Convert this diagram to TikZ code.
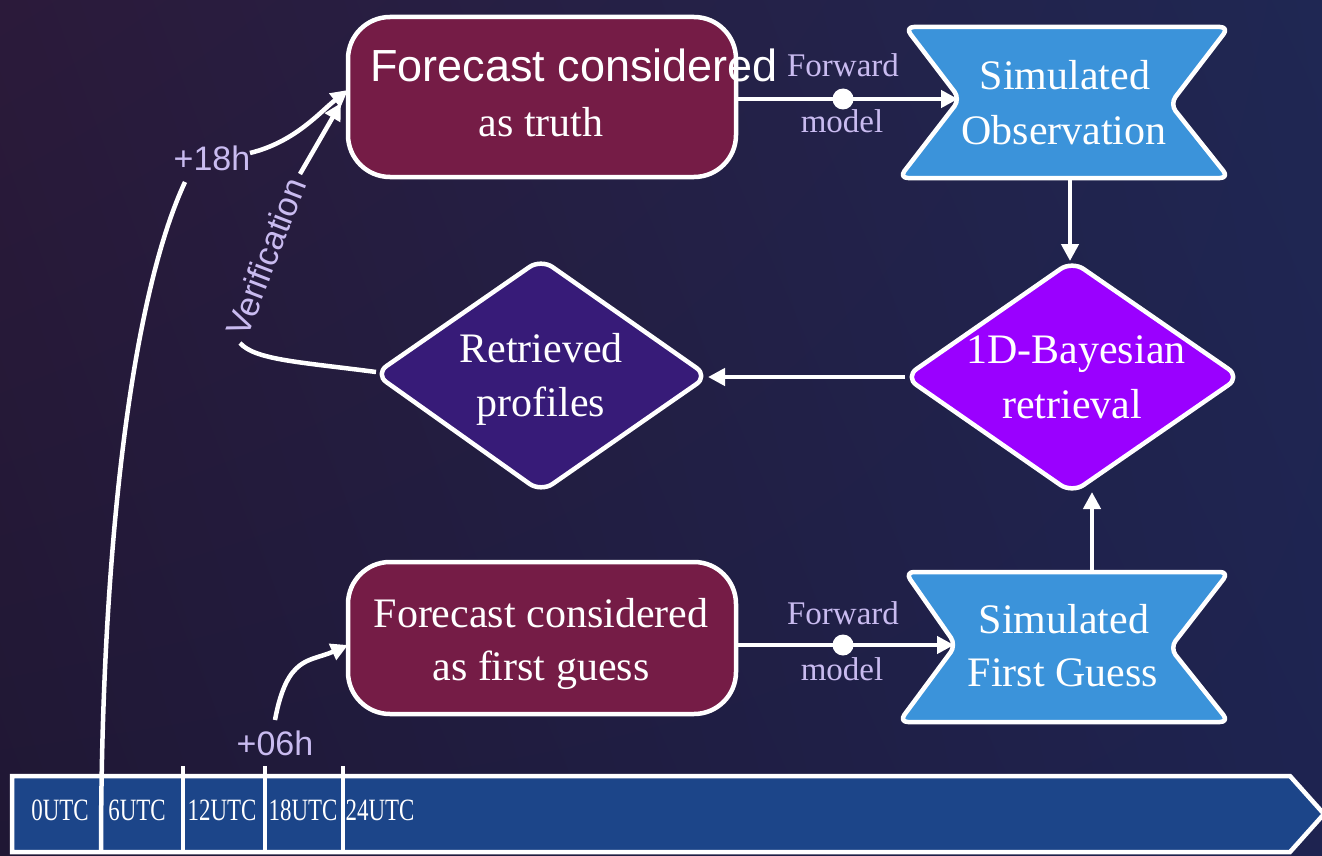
\documentclass[tikz,border=0pt]{standalone}
\usepackage{fontspec}
\setmainfont{Liberation Serif}
\setsansfont{Liberation Sans}
\usetikzlibrary{arrows.meta,calc,shadings}
\definecolor{bgUL}{HTML}{2B1A3A}
\definecolor{bgLL}{HTML}{1F1734}
\definecolor{bgUR}{HTML}{1F2753}
\definecolor{bgLR}{HTML}{1E2350}
\definecolor{maroonbox}{HTML}{751C46}
\definecolor{bluebox}{HTML}{3B93DA}
\definecolor{violetbox}{HTML}{9A00FF}
\definecolor{indigobox}{HTML}{371B78}
\definecolor{timebar}{HTML}{1C4589}
\definecolor{lav}{HTML}{C9BBF0}
\tikzset{
  shapeline/.style={draw=white, line width=4.5pt, line join=round},
  fcbox/.style={shapeline, fill=maroonbox, rounded corners=42pt},
  simbox/.style={shapeline, fill=bluebox, rounded corners=9pt},
  diabox/.style={shapeline, rounded corners=14pt},
  conn/.style={draw=white, line width=4.5pt, -{Triangle[length=17pt,width=17pt]}},
  plain/.style={draw=white, line width=4.5pt},
  maintxt/.style={text=white, inner sep=0pt, anchor=base, font=\fontsize{42pt}{50pt}\selectfont},
  lavtxt/.style={text=lav, inner sep=0pt, anchor=base, font=\fontsize{33pt}{40pt}\selectfont},
  lavsans/.style={text=lav, inner sep=0pt, anchor=base, font=\sffamily\fontsize{34pt}{40pt}\selectfont},
  utctxt/.style={text=white, inner sep=0pt, anchor=base, font=\fontsize{31pt}{36pt}\selectfont},
  tick/.style={draw=white, line width=4pt}
}
\newcommand{\utc}[1]{\scalebox{0.74}[1]{#1}}
\begin{document}
\begin{tikzpicture}[x=1pt,y=-1pt]
\useasboundingbox (0,0) rectangle (1322,856);
% background
\shade[upper left=bgUL, upper right=bgUR, lower left=bgLL, lower right=bgLR] (0,0) rectangle (1322,856);

% timeline
\draw[shapeline, fill=timebar, line join=miter] (12,776) -- (1290,776) -- (1324,814) -- (1290,852) -- (12,852) -- cycle;
\coordinate (tk0) at (101,852);
\draw[tick] (183,766) -- (183,852);
\draw[tick] (265,766) -- (265,852);
\draw[tick] (343,766) -- (343,852);
\node[utctxt] (u0) at (60,820) {\utc{0UTC}};
\node[utctxt] (u6) at (137,820) {\utc{6UTC}};
\node[utctxt] (u12) at (222,820) {\utc{12UTC}};
\node[utctxt] (u18) at (303,820) {\utc{18UTC}};
\node[utctxt] (u24) at (380,820) {\utc{24UTC}};

% boxes
\path[fcbox] (348,17) rectangle (736,177);
\node[inner sep=0pt, minimum width=388pt, minimum height=160pt] (truth) at (542,97) {};
\path[fcbox] (348,562) rectangle (736,714);
\node[inner sep=0pt, minimum width=388pt, minimum height=152pt] (guess) at (542,638) {};

\path[simbox] (905,27) -- (1229,27) -- (1170,104) -- (1229,178) -- (899,178) -- (960,99) -- cycle;
\coordinate (obsW) at (958,99);
\coordinate (obsS) at (1070,180);
\node[inner sep=0pt] (simobs) at (1065,102) {};
\path[simbox] (905,572) -- (1229,572) -- (1170,648) -- (1229,722) -- (899,722) -- (956,645) -- cycle;
\coordinate (fgW) at (954,645);
\coordinate (fgN) at (1092,574);
\node[inner sep=0pt] (simfg) at (1065,647) {};

\path[diabox, fill=violetbox] (1072,261) -- (1240,377) -- (1072,493) -- (905,377) -- cycle;
\coordinate (bayN) at (1070,261);
\coordinate (bayE) at (905,377);
\coordinate (bayS) at (1092,492);
\node[inner sep=0pt] (bayes) at (1072,377) {};
\path[diabox, fill=indigobox] (541,259) -- (708,376) -- (541,492) -- (375,374) -- cycle;
\coordinate (retE) at (708,377);
\coordinate (retW) at (376,372);
\node[inner sep=0pt] (retr) at (541,375) {};

% texts
\node[maintxt, font=\sffamily\fontsize{45pt}{50pt}\selectfont] (t1) at (574,82) {Forecast considered};
\node[maintxt] (t2) at (541,137) {as truth};
\node[maintxt] (t3) at (541,627) {Forecast considered};
\node[maintxt] (t4) at (541,680) {as first guess};
\node[maintxt] (t5) at (1065,90) {Simulated};
\node[maintxt] (t6) at (1064,145) {Observation};
\node[maintxt] (t7) at (1064,633) {Simulated};
\node[maintxt] (t8) at (1063,686) {First Guess};
\node[maintxt] (t9) at (1076,363) {1D-Bayesian};
\node[maintxt] (t10) at (1072,418) {retrieval};
\node[maintxt] (t11) at (541,362) {Retrieved};
\node[maintxt] (t12) at (541,416) {profiles};

% forward model connectors
\coordinate (truthE) at (737,99);
\coordinate (guessE) at (737,645);
\draw[conn] (truthE) -- (obsW);
\node[circle, fill=white, minimum size=21pt, inner sep=0pt] (dot1) at (843,99) {};
\node[lavtxt] (fw1) at (843,77) {Forward};
\node[lavtxt] (md1) at (842,133) {model};
\draw[conn] (guessE) -- (fgW);
\node[circle, fill=white, minimum size=21pt, inner sep=0pt] (dot2) at (843,645) {};
\node[lavtxt] (fw2) at (843,624) {Forward};
\node[lavtxt] (md2) at (842,680) {model};

% vertical / horizontal connectors
\draw[conn] (obsS) -- (bayN);
\draw[conn] (fgN) -- (bayS);
\draw[conn] (bayE) -- (retE);

% verification
\coordinate (v1) at (240,343);
\coordinate (v2) at (300,174);
\coordinate (truthW1) at (341,103);
\draw[plain] (retW) .. controls (300,362) and (255,360) .. (v1);
\draw[conn] (v2) -- (truthW1);
\node[lavsans, anchor=center, rotate=69] (verif) at (266,257) {Verification};

% +18h
\coordinate (h18a) at (185,182);
\coordinate (h18b) at (250,153);
\coordinate (truthW2) at (348,90);
\draw[plain] (tk0) .. controls (101,560) and (130,300) .. (h18a);
\draw[conn] (h18b) .. controls (295,142) and (320,112) .. (truthW2);
\node[lavsans] (l18) at (212,170) {+18h};

% +06h
\coordinate (h06a) at (275,720);
\coordinate (guessW) at (348,645);
\draw[conn] (h06a) .. controls (287,655) and (310,662) .. (guessW);
\node[lavsans] (l06) at (275,755) {+06h};
\end{tikzpicture}
\end{document}
